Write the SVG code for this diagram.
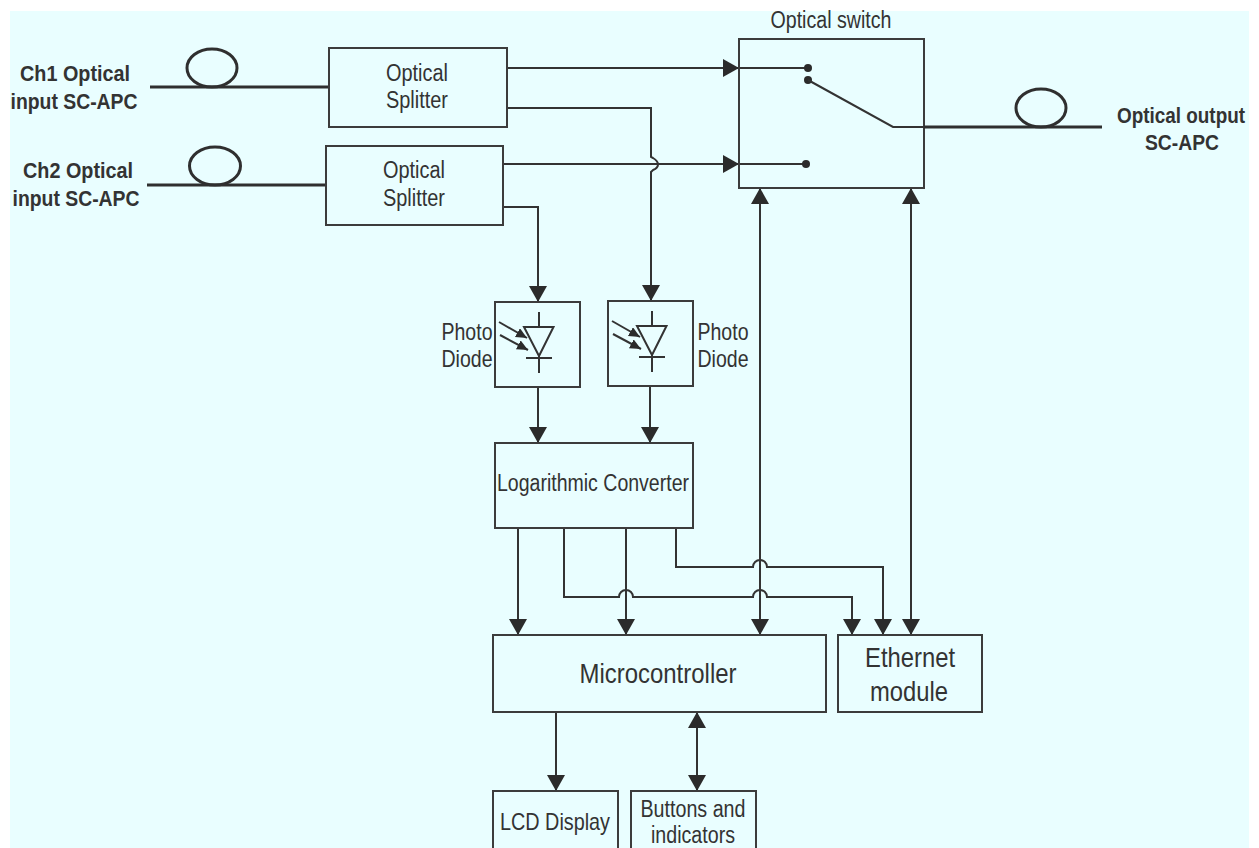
<svg xmlns="http://www.w3.org/2000/svg" width="1259" height="848" viewBox="0 0 1259 848">
<style>
.b{fill:none;stroke:#3c3c3c;stroke-width:2}
.c{fill:none;stroke:#333;stroke-width:2}
.f{fill:none;stroke:#2f2f2f;stroke-width:3}
.a{marker-end:url(#ah)}
.d{marker-start:url(#as);marker-end:url(#ah)}
.s{marker-end:url(#sa)}
text{font-family:"Liberation Sans",Arial,sans-serif;fill:#333;text-anchor:middle;font-size:23px}
.h{font-weight:bold;font-size:22px}
.l{font-size:28px}
.m{font-size:24px}
</style>
<defs>
<marker id="ah" markerUnits="userSpaceOnUse" markerWidth="20" markerHeight="20" refX="17" refY="9.500" orient="auto"><path d="M1 0.500L17 9.500L1 18.500Z" fill="#2b2b2b"/></marker>
<marker id="as" markerUnits="userSpaceOnUse" markerWidth="20" markerHeight="20" refX="2" refY="9.500" orient="auto"><path d="M18 0.500L2 9.500L18 18.500Z" fill="#2b2b2b"/></marker>
<marker id="sa" markerUnits="userSpaceOnUse" markerWidth="12" markerHeight="12" refX="11" refY="5" orient="auto"><path d="M0 0L11 5L0 10Z" fill="#2b2b2b"/></marker>
</defs>
<rect x="10" y="11" width="1239" height="837" fill="#e9feff"/>
<g id="connectors">
<path class="c a" d="M507 68H739"/>
<path class="c" d="M739 68H806"/>
<path class="c a" d="M507 108H651V157L653 158Q658 161 658 164.500Q658 168 653 170L651 172V301"/>
<path class="c a" d="M504 164H739"/>
<path class="c" d="M739 164H806"/>
<path class="c a" d="M504 207H538V302"/>
<path class="c a" d="M538 387V443"/>
<path class="c a" d="M650 386V443"/>
<path class="c a" d="M518 528V635"/>
<path class="c a" d="M626 528V635"/>
<path class="c a" d="M564 528V597H619a7 7 0 0 1 14 0H753a7 7 0 0 1 14 0H852V635"/>
<path class="c a" d="M676 528V567H753a7 7 0 0 1 14 0H883V635"/>
<path class="c d" d="M760 188V635"/>
<path class="c d" d="M911 188V635"/>
<path class="c a" d="M556 712V791"/>
<path class="c d" d="M697 712V791"/>
</g>
<g id="ch1-input">
<text class="h" x="75" y="81" textLength="110" lengthAdjust="spacingAndGlyphs">Ch1 Optical</text>
<text class="h" x="74" y="109" textLength="127" lengthAdjust="spacingAndGlyphs">input SC-APC</text>
<ellipse class="f" cx="212" cy="68" rx="25" ry="19"/>
<path class="f" d="M150 87H329"/>
</g>
<g id="ch2-input">
<text class="h" x="78" y="178" textLength="110" lengthAdjust="spacingAndGlyphs">Ch2 Optical</text>
<text class="h" x="76" y="206" textLength="127" lengthAdjust="spacingAndGlyphs">input SC-APC</text>
<ellipse class="f" cx="215" cy="166" rx="25.500" ry="19"/>
<path class="f" d="M147 185H326"/>
</g>
<g id="splitter-1">
<rect class="b" x="329" y="48" width="178" height="79"/>
<text x="417" y="81" textLength="62" lengthAdjust="spacingAndGlyphs">Optical</text>
<text x="417" y="108" textLength="62" lengthAdjust="spacingAndGlyphs">Splitter</text>
</g>
<g id="splitter-2">
<rect class="b" x="326" y="146" width="177" height="79"/>
<text x="414" y="178" textLength="62" lengthAdjust="spacingAndGlyphs">Optical</text>
<text x="414" y="206" textLength="62" lengthAdjust="spacingAndGlyphs">Splitter</text>
</g>
<g id="optical-switch">
<text x="831" y="28" textLength="121" lengthAdjust="spacingAndGlyphs">Optical switch</text>
<rect class="b" x="739" y="39" width="185" height="149"/>
<circle cx="808" cy="68" r="4" fill="#2b2b2b"/>
<circle cx="808" cy="80" r="4" fill="#2b2b2b"/>
<circle cx="806" cy="164" r="4" fill="#2b2b2b"/>
<path class="c" d="M808 80L893 127H924"/>
</g>
<g id="optical-output">
<ellipse class="f" cx="1041" cy="108" rx="25" ry="19"/>
<path class="f" d="M924 127H1102"/>
<text class="h" transform="translate(1181 123) scale(.86 1)">Optical output</text>
<text class="h" x="1182" y="150" textLength="74" lengthAdjust="spacingAndGlyphs">SC-APC</text>
</g>
<g id="photodiode-1">
<rect class="b" x="495" y="302" width="85" height="85"/>
<path class="c" d="M524 327H553.500L539 356ZM539 312V327M526 358H552M539 356V373"/>
<path class="c s" d="M499 322L527 338"/>
<path class="c s" d="M500 335L528 350"/>
<text class="m" x="467" y="340" textLength="51" lengthAdjust="spacingAndGlyphs">Photo</text>
<text class="m" x="467" y="367" textLength="51" lengthAdjust="spacingAndGlyphs">Diode</text>
</g>
<g id="photodiode-2">
<rect class="b" x="608" y="301" width="85" height="85"/>
<path class="c" d="M637 326H666.500L652 355ZM652 311V326M639 357H665M652 355V372"/>
<path class="c s" d="M612 321L640 337"/>
<path class="c s" d="M613 334L641 349"/>
<text class="m" x="723" y="340" textLength="51" lengthAdjust="spacingAndGlyphs">Photo</text>
<text class="m" x="723" y="367" textLength="51" lengthAdjust="spacingAndGlyphs">Diode</text>
</g>
<g id="log-converter">
<rect class="b" x="495" y="443" width="198" height="85"/>
<text x="593" y="491" textLength="192" lengthAdjust="spacingAndGlyphs">Logarithmic Converter</text>
</g>
<g id="microcontroller">
<rect class="b" x="493" y="635" width="333" height="77"/>
<text class="l" x="658" y="683" textLength="157" lengthAdjust="spacingAndGlyphs">Microcontroller</text>
</g>
<g id="ethernet-module">
<rect class="b" x="838" y="635" width="144" height="77"/>
<text class="l" x="910" y="667" textLength="90" lengthAdjust="spacingAndGlyphs">Ethernet</text>
<text class="l" x="909" y="701" textLength="78" lengthAdjust="spacingAndGlyphs">module</text>
</g>
<g id="lcd-display">
<rect class="b" x="493" y="791" width="125" height="70"/>
<text class="m" x="555" y="830" textLength="110" lengthAdjust="spacingAndGlyphs">LCD Display</text>
</g>
<g id="buttons-indicators">
<rect class="b" x="631" y="791" width="125" height="70"/>
<text x="693" y="817" textLength="105" lengthAdjust="spacingAndGlyphs">Buttons and</text>
<text x="693" y="843" textLength="84" lengthAdjust="spacingAndGlyphs">indicators</text>
</g>
</svg>
